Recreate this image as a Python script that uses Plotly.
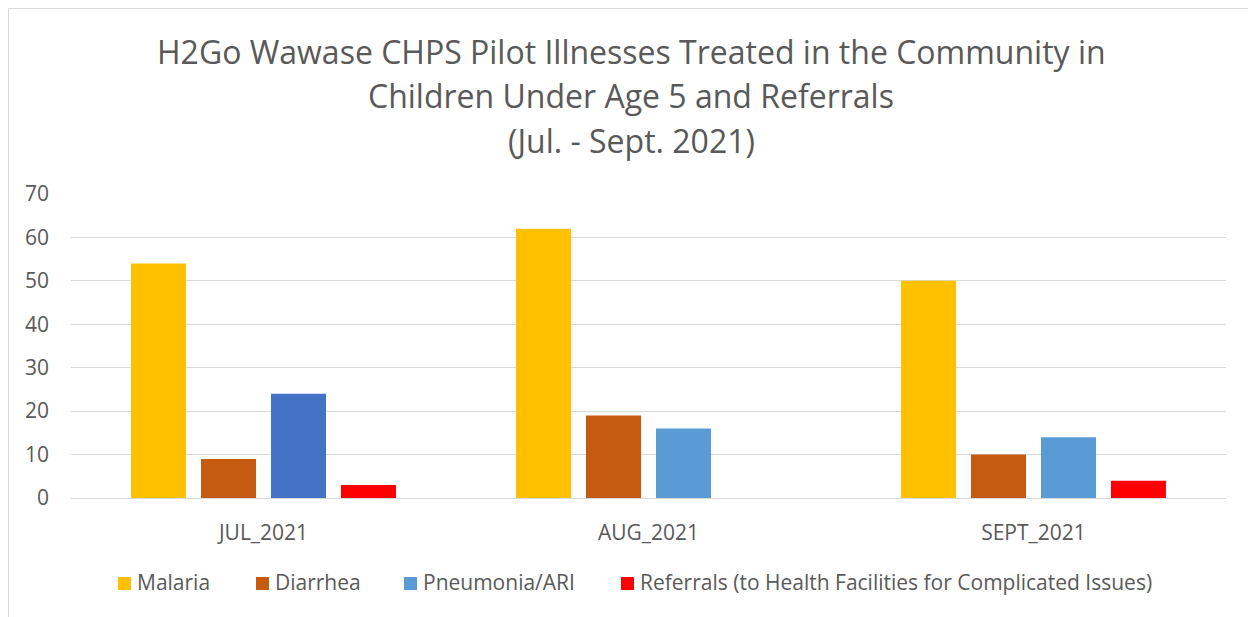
import plotly.graph_objects as go

months = ["JUL_2021", "AUG_2021", "SEPT_2021"]
malaria = [54, 62, 50]
diarrhea = [9, 19, 10]
pneumonia = [24, 16, 14]
referrals = [3, 0, 4]

series_names = ["Malaria", "Diarrhea", "Pneumonia/ARI",
                "Referrals (to Health Facilities for Complicated Issues)"]
series_values = [malaria, diarrhea, pneumonia, referrals]
series_colors = [
    ["#FFC000"] * 3,
    ["#C55A11"] * 3,
    ["#4472C4", "#5B9BD5", "#5B9BD5"],
    ["#FF0000"] * 3,
]
legend_colors = ["#FFC000", "#C55A11", "#5B9BD5", "#FF0000"]

title_lines = ["H2Go Wawase CHPS Pilot Illnesses Treated in the Community in",
               "Children Under Age 5 and Referrals",
               "(Jul. - Sept. 2021)"]

FONT = "Open Sans"
GREY = "#595959"

# page offset (body margin) compensation: window px -> figure px
OFF = 8
def wx(x):
    return x - OFF
def wy(y):
    return y - OFF

# legend marker left edges in window pixels (layout)
legend_marker_x = [118, 256, 404, 621]
title_y = [51, 95, 140]

fig = go.Figure()
for name, vals, cols in zip(series_names, series_values, series_colors):
    fig.add_trace(go.Bar(
        x=months, y=vals, name=name, showlegend=False,
        marker=dict(color=cols, line=dict(width=0)),
    ))

W, H = 1256, 617
ml, mr, mt, mb = wx(71), W - wx(1226), wy(194), H - wy(498)
pw, ph = W - ml - mr, H - mt - mb

def px_to_paper_x(px):
    return (px - ml) / pw

def px_to_paper_y(py):
    return (H - mb - py) / ph

fig.update_layout(
    width=W, height=H,
    margin=dict(l=ml, r=mr, t=mt, b=mb, pad=0, autoexpand=False),
    paper_bgcolor="white", plot_bgcolor="white",
    barmode="group", bargap=0.273, bargroupgap=0.214,
    font=dict(family=FONT, color=GREY, size=21),
    xaxis=dict(showgrid=False, showline=False, ticks="", ticklen=0,
               ticklabelstandoff=20,
               tickfont=dict(size=21, color=GREY, family=FONT)),
    yaxis=dict(range=[0, 70], dtick=10, showgrid=True, gridcolor="#D9D9D9",
               gridwidth=1, zeroline=True, zerolinecolor="#D9D9D9", zerolinewidth=1,
               showline=False, ticks="", ticklen=0, ticklabelstandoff=21,
               tickfont=dict(size=21, color=GREY, family=FONT)),
    showlegend=False,
)

# title lines
for line, ty in zip(title_lines, title_y):
    fig.add_annotation(text=line, xref="paper", yref="paper",
                       x=px_to_paper_x(wx(631)), y=px_to_paper_y(wy(ty)),
                       xanchor="center", yanchor="middle", showarrow=False,
                       font=dict(size=32, color=GREY, family=FONT))

# manual legend
for name, col, mx in zip(series_names, legend_colors, legend_marker_x):
    fig.add_shape(type="rect", xref="paper", yref="paper",
                  x0=px_to_paper_x(wx(mx)), x1=px_to_paper_x(wx(mx + 13)),
                  y0=px_to_paper_y(wy(590)), y1=px_to_paper_y(wy(577)),
                  line=dict(width=0), fillcolor=col)
    fig.add_annotation(text=name, xref="paper", yref="paper",
                       x=px_to_paper_x(wx(mx + 17)), y=px_to_paper_y(wy(582)),
                       xanchor="left", yanchor="middle", showarrow=False,
                       font=dict(size=21, color=GREY, family=FONT))

# chart border
fig.add_shape(type="rect", xref="paper", yref="paper",
              x0=px_to_paper_x(0.5), x1=px_to_paper_x(wx(1251.5)),
              y0=px_to_paper_y(H + 20), y1=px_to_paper_y(0.5),
              line=dict(color="#D9D9D9", width=1), fillcolor="rgba(0,0,0,0)", layer="below")

fig.write_html("out.html")
